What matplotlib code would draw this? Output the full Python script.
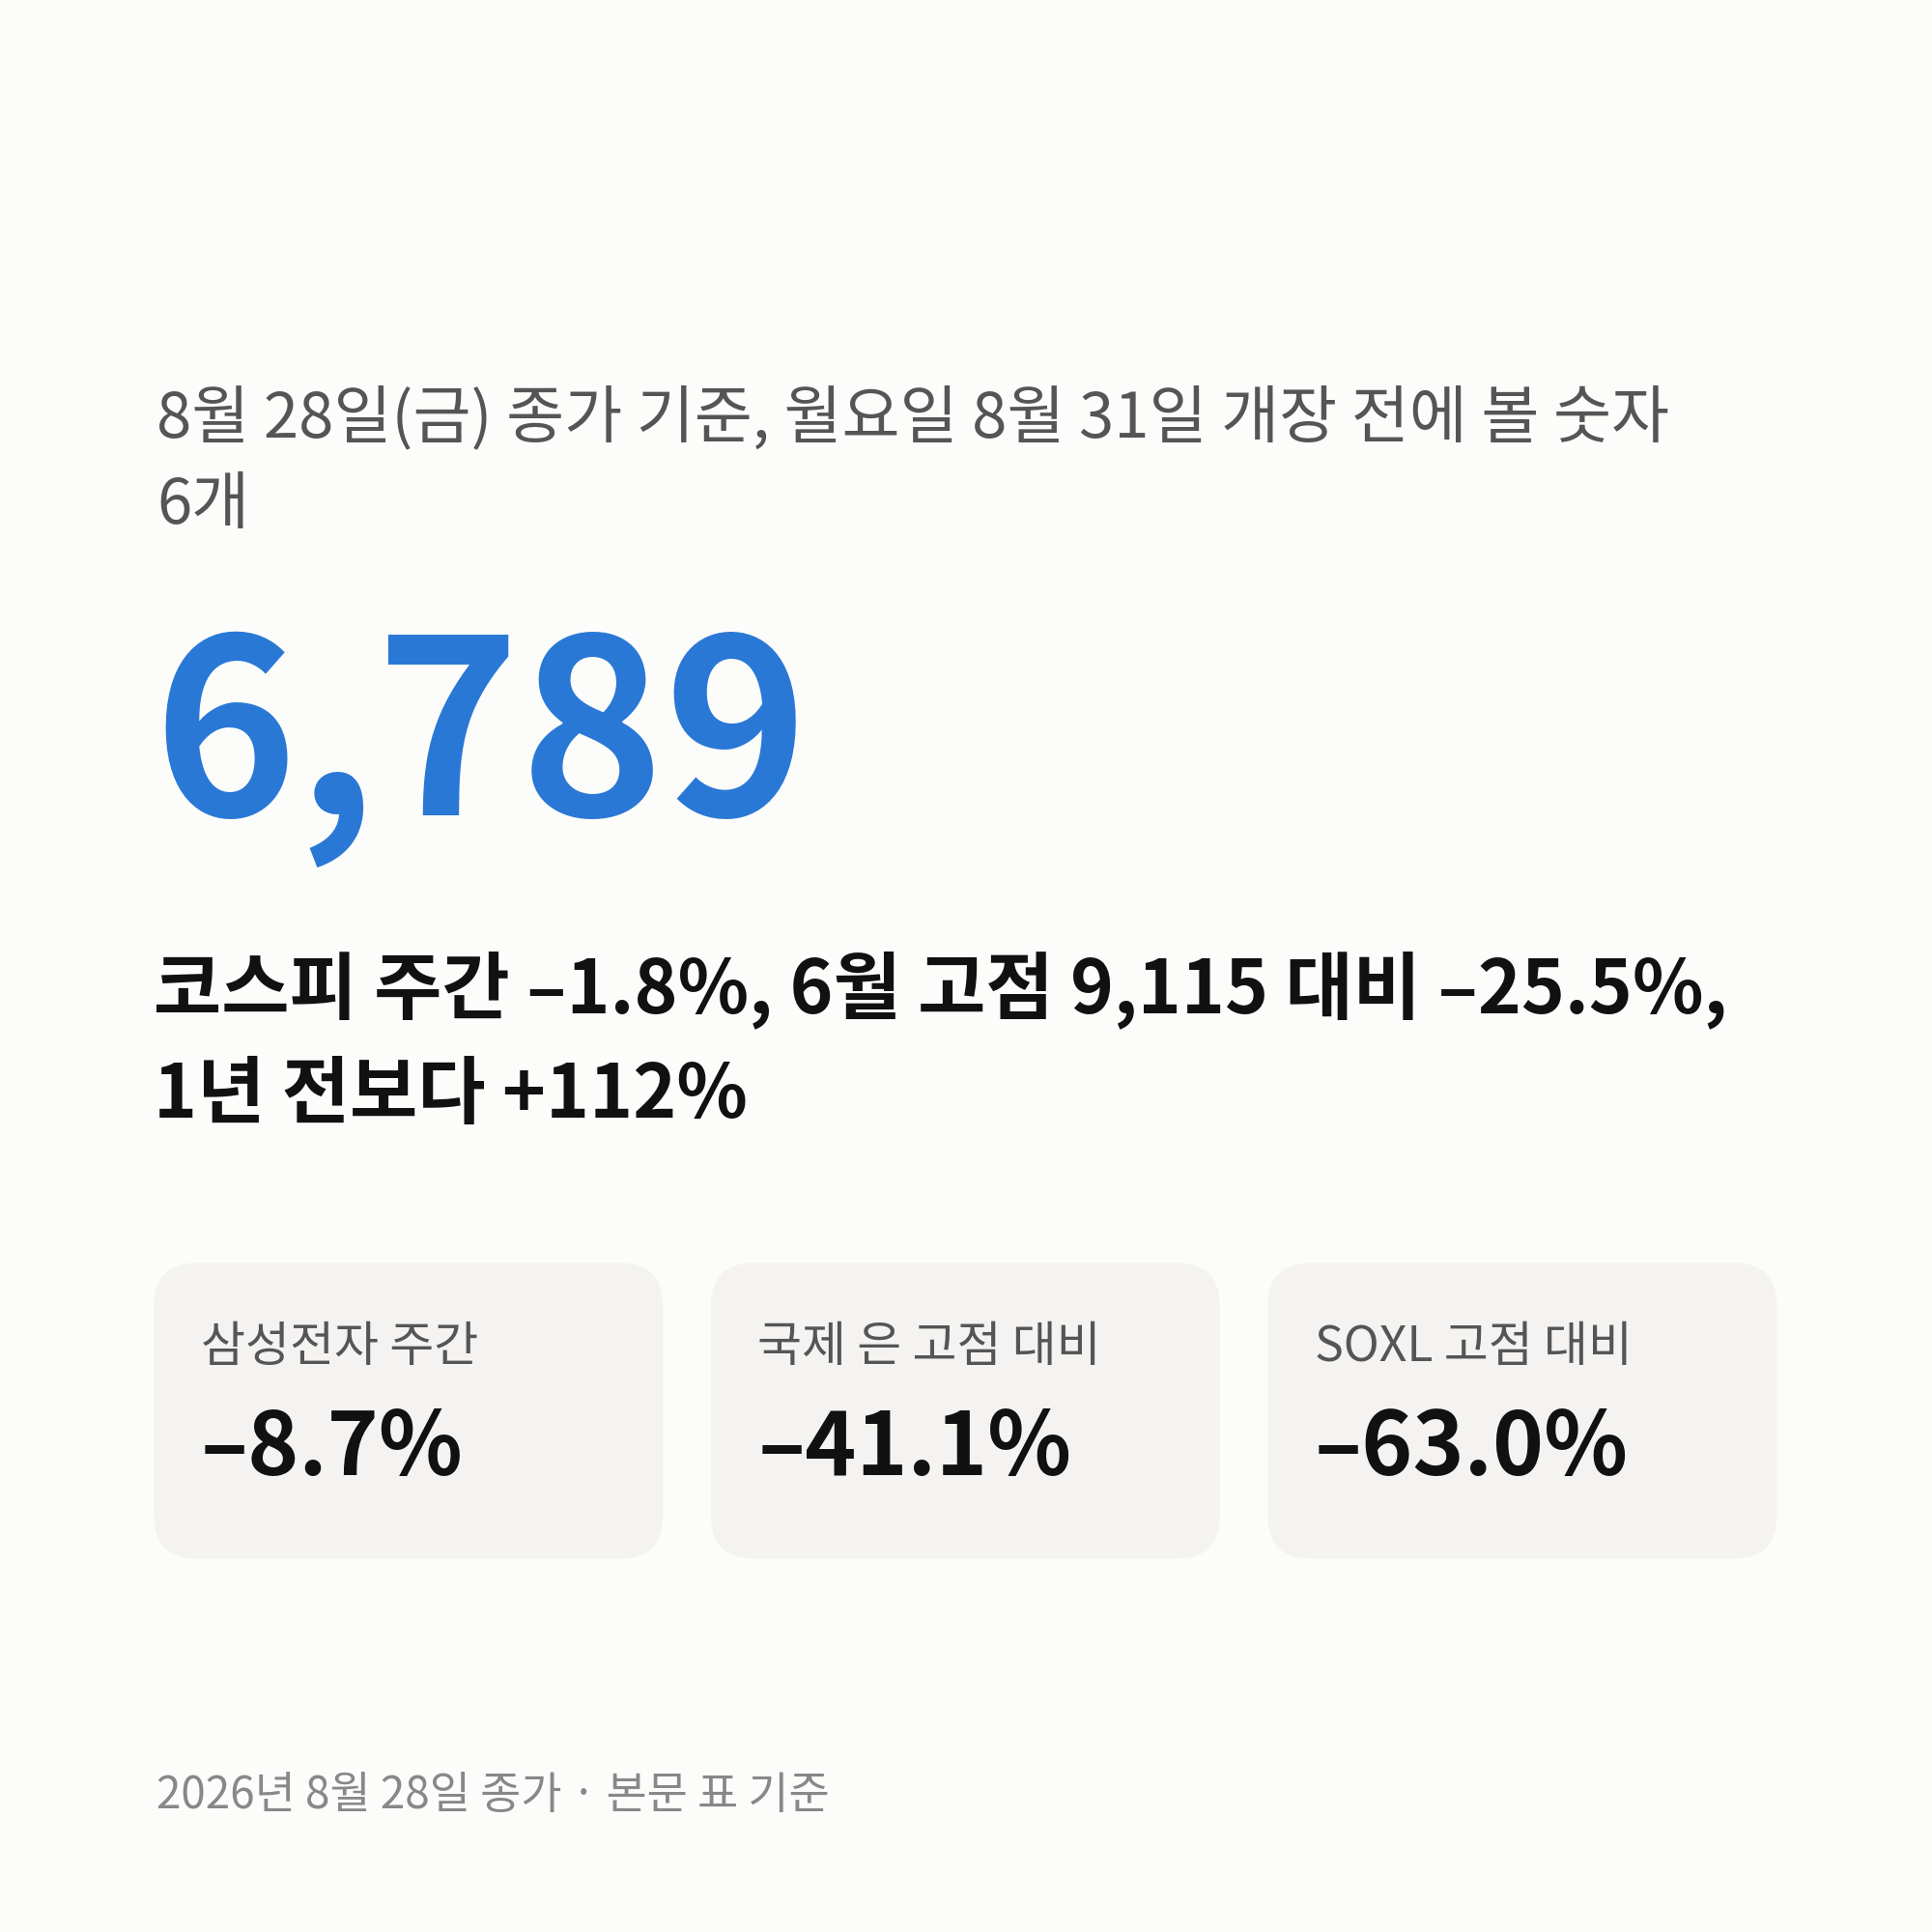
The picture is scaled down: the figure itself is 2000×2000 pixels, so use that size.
import matplotlib
matplotlib.use("Agg")
import matplotlib.pyplot as plt
from matplotlib.patches import FancyBboxPatch

plt.rcParams['font.family'] = ['Noto Sans CJK KR', 'DejaVu Sans']

title_lines = ["8월 28일(금) 종가 기준, 월요일 8월 31일 개장 전에 볼 숫자", "6개"]
headline_value = "6,789"
sub_lines = ["코스피 주간 –1.8%, 6월 고점 9,115 대비 –25.5%,", "1년 전보다 +112%"]
card_labels = ["삼성전자 주간", "국제 은 고점 대비", "SOXL 고점 대비"]
card_values = ["–8.7%", "–41.1%", "–63.0%"]
footer = "2026년 8월 28일 종가 · 본문 표 기준"

S = 1568.0
def fx(x): return x / S
def fy(y): return 1 - y / S

fig = plt.figure(figsize=(20, 20), dpi=100)
fig.patch.set_facecolor('#fcfcfb')

for i, t in enumerate(title_lines):
    fig.text(fx(127), fy(355 + 70 * i), t, fontsize=47, color='#555555', va='baseline')

fig.text(fx(124), fy(662), headline_value, fontsize=182, color='#2a78d6',
         fontweight='bold', va='baseline')

for i, t in enumerate(sub_lines):
    fig.text(fx(125), fy(822 + 85 * i), t, fontsize=55, color='#111111',
             fontweight='bold', va='baseline')

card_x = [125, 577, 1029]
cw, ch, top = 413, 240, 1025
for x, lab, val in zip(card_x, card_labels, card_values):
    p = FancyBboxPatch((fx(x), fy(top + ch)), fx(cw), ch / S,
                       boxstyle="round,pad=0,rounding_size=0.022",
                       transform=fig.transFigure, facecolor='#f4f3f1',
                       edgecolor='none')
    fig.patches.append(p)
    fig.text(fx(x + 38), fy(1105), lab, fontsize=36, color='#555555', va='baseline')
    fig.text(fx(x + 38), fy(1197), val, fontsize=65, color='#111111',
             fontweight='bold', va='baseline')

fig.text(fx(127), fy(1468), footer, fontsize=33, color='#888888', va='baseline')

fig.savefig('out.png', dpi=100, facecolor=fig.get_facecolor())
